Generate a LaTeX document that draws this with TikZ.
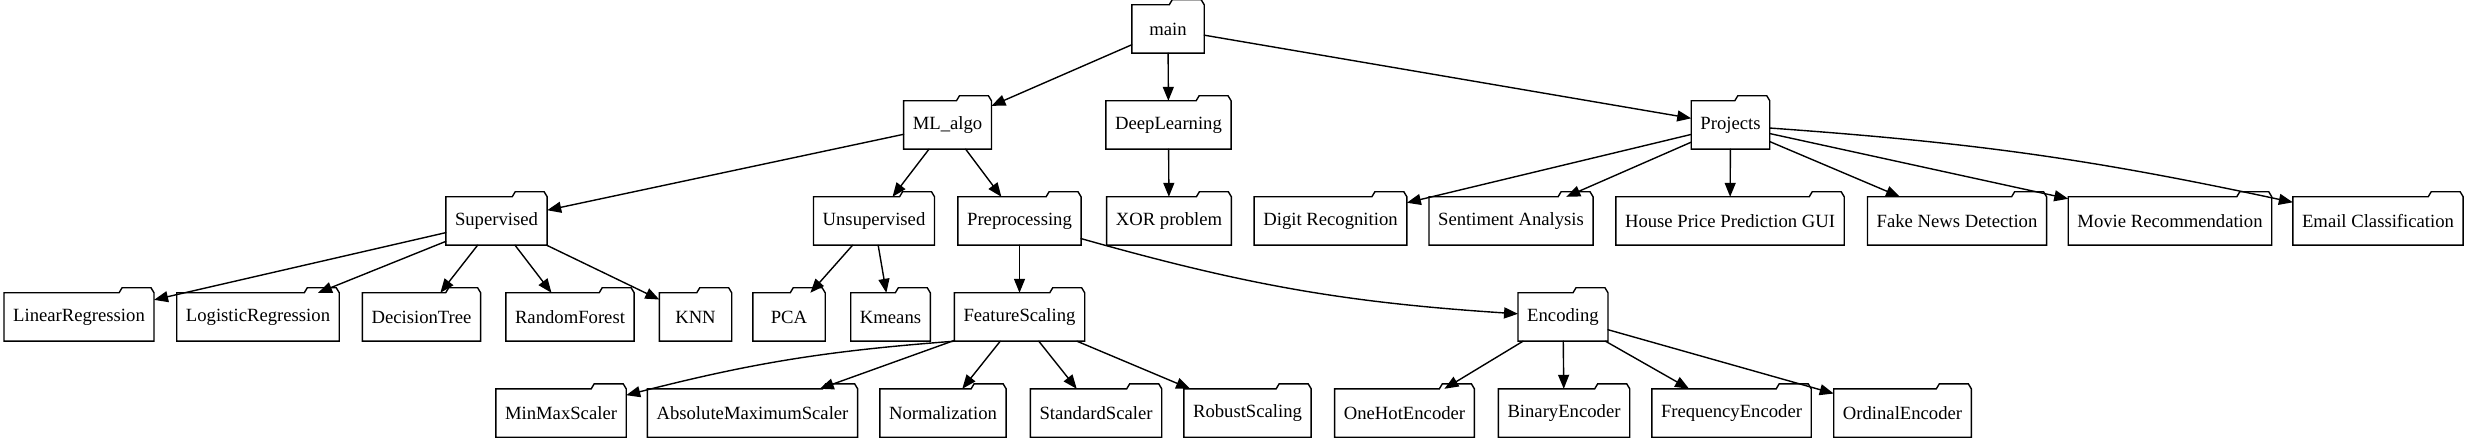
\documentclass[tikz,border=0pt]{standalone}
\usepackage{fontspec}
\setmainfont{Liberation Serif}
\usetikzlibrary{arrows}
\usetikzlibrary{arrows.meta}

\tikzset{
  folder/.style={rectangle,minimum width=72pt,minimum height=48pt,
    inner xsep=9pt,inner ysep=0pt,font=\fontsize{18.67}{22}\selectfont,
    append after command={\pgfextra{\draw[line width=1.4pt,line join=miter]
      (\tikzlastnode.south west) -- (\tikzlastnode.north west)
      -- ([xshift=-35pt]\tikzlastnode.north east)
      -- ([xshift=-32pt,yshift=5pt]\tikzlastnode.north east)
      -- ([xshift=-3pt,yshift=5pt]\tikzlastnode.north east)
      -- (\tikzlastnode.north east) -- (\tikzlastnode.south east) -- cycle;}}},
  link/.style={->,line width=1.4pt}
}

\begin{document}
\begin{tikzpicture}[line cap=round,line join=round,>={Triangle[length=14pt,width=11pt]},x=1pt,y=-1pt]
\useasboundingbox (0,0) rectangle (2467,443);
% top
\node[folder] (main) at (1168,29) {main};
% first level
\node[folder] (mlalgo) at (947.5,125) {ML\_algo};
\node[folder] (deep) at (1168.5,125) {DeepLearning};
\node[folder] (proj) at (1730.5,125) {Projects};
% second level
\node[folder] (sup) at (496.5,221) {Supervised};
\node[folder] (unsup) at (874,221) {Unsupervised};
\node[folder] (prep) at (1019.5,221) {Preprocessing};
\node[folder] (xor) at (1169,221) {XOR problem};
\node[folder] (digit) at (1330.5,221) {Digit Recognition};
\node[folder] (senti) at (1511,221) {Sentiment Analysis};
\node[folder] (house) at (1730,221) {House Price Prediction GUI};
\node[folder] (fake) at (1957,221) {Fake News Detection};
\node[folder] (movie) at (2170,221) {Movie Recommendation};
\node[folder] (email) at (2378,221) {Email Classification};
% third level
\node[folder] (linreg) at (79,317) {LinearRegression};
\node[folder] (logreg) at (258,317) {LogisticRegression};
\node[folder] (dtree) at (421.5,317) {DecisionTree};
\node[folder] (rforest) at (570,317) {RandomForest};
\node[folder] (knn) at (695.5,317) {KNN};
\node[folder] (pca) at (789,317) {PCA};
\node[folder] (kmeans) at (890.5,317) {Kmeans};
\node[folder] (fscale) at (1019.5,317) {FeatureScaling};
\node[folder] (enc) at (1563,317) {Encoding};
% fourth level
\node[folder] (minmax) at (561,413) {MinMaxScaler};
\node[folder] (absmax) at (752.5,413) {AbsoluteMaximumScaler};
\node[folder] (norm) at (943,413) {Normalization};
\node[folder] (stdsc) at (1096,413) {StandardScaler};
\node[folder] (robust) at (1247.5,413) {RobustScaling};
\node[folder] (onehot) at (1404.5,413) {OneHotEncoder};
\node[folder] (binary) at (1564,413) {BinaryEncoder};
\node[folder] (freq) at (1731.5,413) {FrequencyEncoder};
\node[folder] (ordinal) at (1902.5,413) {OrdinalEncoder};
% links
\draw[link] (main) -- (mlalgo);
\draw[link] (main) -- (deep);
\draw[link] (main) -- (proj);
\draw[link] (mlalgo) -- (sup);
\draw[link] (mlalgo) -- (unsup);
\draw[link] (mlalgo) -- (prep);
\draw[link] (deep) -- (xor);
\draw[link] (proj) -- (digit);
\draw[link] (proj) -- (senti);
\draw[link] (proj) -- (house);
\draw[link] (proj) -- (fake);
\draw[link] (proj) -- (movie);
\draw[link] (proj) to[bend left=4] (email);
\draw[link] (sup) -- (linreg);
\draw[link] (sup) -- (logreg);
\draw[link] (sup) -- (dtree);
\draw[link] (sup) -- (rforest);
\draw[link] (sup) -- (knn);
\draw[link] (unsup) -- (pca);
\draw[link] (unsup) -- (kmeans);
\draw[link] (prep) -- (fscale);
\draw[link] (prep) to[bend right=6] (enc);
\draw[link] (fscale.south west) to[bend right=5] (minmax);
\draw[link] (fscale) -- (absmax);
\draw[link] (fscale) -- (norm);
\draw[link] (fscale) -- (stdsc);
\draw[link] (fscale) -- (robust);
\draw[link] (enc) -- (onehot);
\draw[link] (enc) -- (binary);
\draw[link] (enc) -- (freq);
\draw[link] (enc) -- (ordinal);
\end{tikzpicture}
\end{document}
